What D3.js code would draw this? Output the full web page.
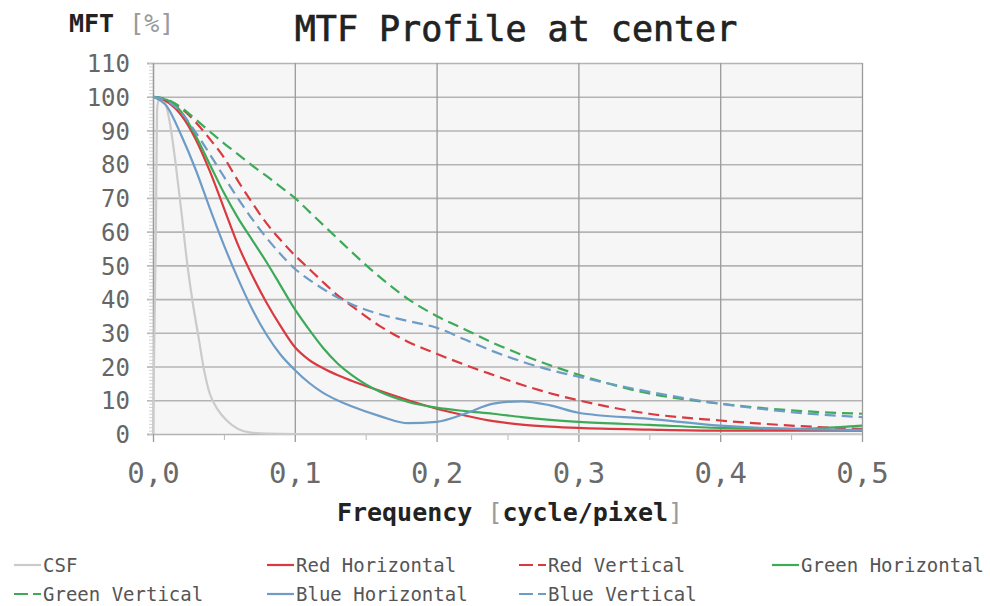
<!DOCTYPE html>
<html>
<head>
<meta charset="utf-8">
<script src="https://cdn.jsdelivr.net/npm/d3@7"></script>
<style>
  html, body { margin: 0; padding: 0; background: #fff; }
  svg { display: block; }
</style>
</head>
<body>
<svg id="chart" width="990" height="606"></svg>
<script>
// ---------------- DATA ----------------
const titleText = "MTF Profile at center";
const xTicks = [0.0, 0.1, 0.2, 0.3, 0.4, 0.5];
const xTickLabels = ["0,0", "0,1", "0,2", "0,3", "0,4", "0,5"];
const yTicks = [0, 10, 20, 30, 40, 50, 60, 70, 80, 90, 100, 110];

const freq = [0, 0.01, 0.02, 0.03, 0.04, 0.05, 0.06, 0.07, 0.08, 0.09, 0.10,
              0.11, 0.12, 0.13, 0.14, 0.16, 0.18, 0.20, 0.22, 0.24, 0.26, 0.28, 0.30,
              0.35, 0.40, 0.45, 0.50];

const redHorizontal   = [100, 98.5, 94.5, 87.5, 78, 67, 56, 47, 39, 32, 25.8,
                         22, 19.5, 17.5, 15.8, 12.8, 10, 7.5, 5.5, 3.8, 2.8, 2.2, 1.8,
                         1.3, 1, 1, 1];
const redVertical     = [100, 99, 96.5, 92.5, 87.5, 82, 75, 68.5, 62.5, 57.5, 53,
                         49, 45, 41.2, 38, 32, 27.3, 23.8, 20.5, 17.5, 14.6, 12.1, 10,
                         6, 4, 2.5, 1.5];
const greenHorizontal = [100, 99, 95.5, 88.5, 80, 71.5, 64, 57.5, 51, 44, 37,
                         31, 25.5, 21, 17.5, 12.5, 9.5, 7.8, 6.8, 6, 5, 4.2, 3.6,
                         2.7, 1.8, 1.5, 2.5];
const greenVertical   = [100, 99.2, 96.8, 93.3, 89.7, 86.2, 82.9, 79.6, 76.5, 73.3, 70,
                         66, 62, 58, 54, 46.5, 40, 35, 31, 27, 23.5, 20.4, 17.6,
                         12, 9, 7, 6];
const blueHorizontal  = [100, 97, 88.5, 78.5, 67, 56, 46, 37, 29.5, 23.5, 19,
                         15.2, 12.2, 10, 8.2, 5.3, 3.2, 3.6, 6, 9, 9.7, 8.5, 6.3,
                         4.5, 2.5, 1.5, 1.2];
const blueVertical    = [100, 98.7, 95.3, 89.5, 83, 76.3, 69.8, 63.7, 58.2, 53.3, 49,
                         45.8, 43, 40.5, 38.5, 35.5, 33.5, 31.5, 28, 24.5, 21.5, 19, 17,
                         12.5, 9, 6.5, 5];

const csfFreq   = [0, 0.002, 0.003, 0.005, 0.008, 0.012, 0.016, 0.02, 0.024, 0.028,
                   0.032, 0.036, 0.04, 0.046, 0.052, 0.06, 0.068, 0.08, 0.1, 0.3, 0.5];
const csfValues = [0, 60, 97, 100, 99, 92, 80, 66, 51, 39,
                   29, 19, 12, 7, 4, 1.5, 0.5, 0.1, 0, 0, 0];

const seriesNames = ["CSF", "Red Horizontal", "Red Vertical", "Green Horizontal",
                     "Green Vertical", "Blue Horizontal", "Blue Vertical"];
const seriesColors = ["#cbcbcb", "#d83a40", "#d83a40", "#3daa58",
                      "#3daa58", "#6d9cc6", "#6d9cc6"];
const seriesDashed = [false, false, true, false, true, false, true];

// ---------------- BUILD ----------------
const series = [
  { name: seriesNames[0], pts: csfFreq.map((f, i) => [f, csfValues[i]]) },
  { name: seriesNames[1], pts: freq.map((f, i) => [f, redHorizontal[i]]) },
  { name: seriesNames[2], pts: freq.map((f, i) => [f, redVertical[i]]) },
  { name: seriesNames[3], pts: freq.map((f, i) => [f, greenHorizontal[i]]) },
  { name: seriesNames[4], pts: freq.map((f, i) => [f, greenVertical[i]]) },
  { name: seriesNames[5], pts: freq.map((f, i) => [f, blueHorizontal[i]]) },
  { name: seriesNames[6], pts: freq.map((f, i) => [f, blueVertical[i]]) }
].map((s, i) => ({ ...s, color: seriesColors[i], dashed: seriesDashed[i] }));

const FONT = "'DejaVu Sans Mono', 'Liberation Mono', monospace";
const svg = d3.select("#chart");
const L = 153, R = 862, T = 63, B = 434;

const x = d3.scaleLinear().domain([0, 0.5]).range([L, R]);
const y = d3.scaleLinear().domain([0, 110]).range([B, T]);

// plot background
svg.append("rect").attr("x", L).attr("y", T).attr("width", R - L).attr("height", B - T)
  .attr("fill", "#f6f6f6");

// horizontal grid
const gy = svg.append("g").attr("transform", `translate(${L},0)`)
  .call(d3.axisLeft(y).tickValues(yTicks).tickSize(-(R - L)).tickFormat(""));
gy.select(".domain").remove();
gy.selectAll(".tick line").attr("stroke", "#b4b4b4").attr("stroke-width", 1.6);
// left extension of major ticks
const gyTick = svg.append("g").attr("transform", `translate(${L},0)`)
  .call(d3.axisLeft(y).tickValues(yTicks).tickSize(6).tickFormat(""));
gyTick.select(".domain").attr("stroke", "#c4c4c4").attr("stroke-width", 1.5);
gyTick.selectAll(".tick line").attr("stroke", "#b4b4b4").attr("stroke-width", 1.6);
// minor y ruler
const gyMinor = svg.append("g").attr("transform", `translate(${L},0)`)
  .call(d3.axisLeft(y).tickValues(d3.range(0, 111, 1)).tickSize(4).tickFormat(""));
gyMinor.select(".domain").remove();
gyMinor.selectAll(".tick line").attr("stroke", "#c8c8c8").attr("stroke-width", 0.8);

// vertical grid
const gx = svg.append("g").attr("transform", `translate(0,${B})`)
  .call(d3.axisBottom(x).tickValues(xTicks).tickSize(-(B - T)).tickFormat(""));
gx.select(".domain").remove();
gx.selectAll(".tick line").attr("stroke", "#9a9a9a").attr("stroke-width", 1.3);
const gxTick = svg.append("g").attr("transform", `translate(0,${B})`)
  .call(d3.axisBottom(x).tickValues(xTicks).tickSize(8).tickFormat(""));
gxTick.select(".domain").remove();
gxTick.selectAll(".tick line").attr("stroke", "#9a9a9a").attr("stroke-width", 1.3);
const gxMinor = svg.append("g").attr("transform", `translate(0,${B})`)
  .call(d3.axisBottom(x).tickValues([0.05, 0.15, 0.25, 0.35, 0.45]).tickSize(6).tickFormat(""));
gxMinor.select(".domain").remove();
gxMinor.selectAll(".tick line").attr("stroke", "#b8b8b8").attr("stroke-width", 1);

// y tick labels
const gyLab = svg.append("g").attr("transform", `translate(${L - 23},0)`)
  .call(d3.axisLeft(y).tickValues(yTicks).tickSize(0).tickPadding(0));
gyLab.select(".domain").remove();
gyLab.selectAll("text").attr("font-family", FONT).attr("font-size", 24)
  .attr("fill", "#666").attr("dy", "0.36em");

// x tick labels
const gxLab = svg.append("g").attr("transform", `translate(0,${B + 28})`)
  .call(d3.axisBottom(x).tickValues(xTicks).tickSize(0).tickPadding(0)
        .tickFormat((d, i) => xTickLabels[i]));
gxLab.select(".domain").remove();
gxLab.selectAll("text").attr("font-family", FONT).attr("font-size", 29)
  .attr("fill", "#6a6a6a").attr("dy", "0.71em");

// lines
const line = d3.line().x(d => x(d[0])).y(d => y(d[1])).curve(d3.curveMonotoneX);
const plot = svg.append("g");
series.forEach(s => {
  plot.append("path").datum(s.pts).attr("d", line)
    .attr("fill", "none").attr("stroke", s.color).attr("stroke-width", 2.2)
    .attr("stroke-dasharray", s.dashed ? "11,6" : null)
    .attr("stroke-linejoin", "round");
});

// title
svg.append("text").attr("x", 516).attr("y", 41).attr("text-anchor", "middle")
  .attr("font-family", FONT).attr("font-size", 35).attr("fill", "#222")
  .attr("stroke", "#222").attr("stroke-width", 0.7)
  .text(titleText);

// y axis title
const yt = svg.append("text").attr("x", 69).attr("y", 32)
  .attr("font-family", FONT).attr("font-size", 25);
yt.append("tspan").attr("font-weight", "bold").attr("fill", "#222").text("MFT ");
yt.append("tspan").attr("fill", "#9a9a9a").text("[%]");

// x axis title
const xt = svg.append("text").attr("x", 510).attr("y", 521).attr("text-anchor", "middle")
  .attr("font-family", FONT).attr("font-size", 25);
xt.append("tspan").attr("font-weight", "bold").attr("fill", "#222").text("Frequency ");
xt.append("tspan").attr("fill", "#9a9a9a").text("[");
xt.append("tspan").attr("font-weight", "bold").attr("fill", "#222").text("cycle/pixel");
xt.append("tspan").attr("fill", "#9a9a9a").text("]");

// legend
const legX = [14, 267, 519, 772];
const legY = [565, 594];
series.forEach((s, i) => {
  const cx = legX[i % 4], cy = legY[Math.floor(i / 4)];
  const g = svg.append("g").attr("transform", `translate(${cx},${cy})`);
  g.append("line").attr("x1", 0).attr("x2", 27).attr("y1", 0).attr("y2", 0)
    .attr("stroke", s.color).attr("stroke-width", 2.2)
    .attr("stroke-dasharray", s.dashed ? "14,5" : null);
  g.append("text").attr("x", 29).attr("y", 0).attr("dy", "0.36em")
    .attr("font-family", FONT).attr("font-size", 19).attr("fill", "#555")
    .text(s.name);
});
</script>
</body>
</html>
